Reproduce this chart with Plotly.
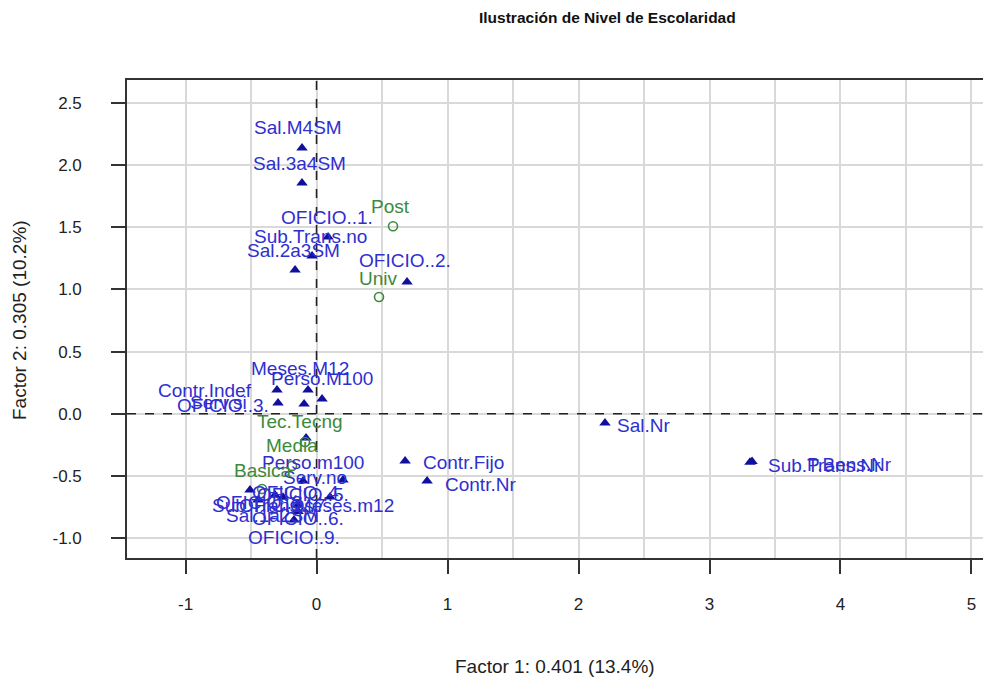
import plotly.graph_objects as go

# Active categories (factor coordinates on dimensions 1 and 2)
active_names = [
    "Sal.M4SM", "Sal.3a4SM", "OFICIO..1.", "Sub.Trans.no", "Sal.2a3SM",
    "OFICIO..2.", "Meses.M12", "Perso.M100", "Contr.Indef", "OFICIO..3.",
    "Serv.si", "Sal.Nr", "Sub.Trans.Nr", "P.Bens.Nr", "Contr.Fijo",
    "Contr.Nr", "OFICIO..7.", "Perso.m100", "Serv.no", "OFICIO..4.",
    "OFICIO..5.", "Sub.Trans.si", "Meses.m12", "OFICIO..8.", "Sal.1a2SM",
    "OFICIO..6.", "OFICIO..9.",
]
active_f1 = [
    -0.111, -0.111, 0.088, -0.034, -0.164,
    0.691, -0.065, 0.042, -0.302, -0.294,
    -0.095, 2.202, 3.309, 3.325, 0.676,
    0.844, -0.080, -0.103, 0.202, -0.141,
    -0.256, -0.508, 0.103, -0.447, -0.317,
    -0.141, -0.172,
]
active_f2 = [
    2.138, 1.856, 1.422, 1.269, 1.156,
    1.060, 0.191, 0.118, 0.191, 0.086,
    0.078, -0.075, -0.390, -0.384, -0.380,
    -0.541, -0.195, -0.541, -0.533, -0.786,
    -0.673, -0.614, -0.671, -0.694, -0.654,
    -0.734, -0.855,
]

# Supplementary categories: schooling level
supl_names = ["Post", "Univ", "Tec.Tecng", "Media", "Basica"]
supl_f1 = [0.584, 0.477, -0.088, -0.187, -0.416]
supl_f2 = [1.508, 0.939, -0.228, -0.420, -0.606]

x_ticks = [-1, 0, 1, 2, 3, 4, 5]
y_ticks = [-1.0, -0.5, 0.0, 0.5, 1.0, 1.5, 2.0, 2.5]

# Label placement (pixel shift from the point, anchor)
label_place = {
    "Sal.M4SM": (-4, 20, "center"), "Sal.3a4SM": (-3, 20, "center"),
    "OFICIO..1.": (-1, 19, "center"), "Sub.Trans.no": (-2, 19, "center"),
    "Sal.2a3SM": (-2, 20, "center"), "OFICIO..2.": (-2, 21, "center"),
    "Meses.M12": (-8, 21, "center"), "Perso.M100": (0, 21, "center"),
    "Contr.Indef": (-72, -1, "center"), "OFICIO..3.": (-55, -2, "center"),
    "Serv.si": (-86, 2, "center"), "Sal.Nr": (10, -2, "left"),
    "Sub.Trans.Nr": (16, -3, "left"), "P.Bens.Nr": (142, -3, "right"),
    "Contr.Fijo": (16, -2, "left"), "Contr.Nr": (16, -4, "left"),
    "OFICIO..7.": (-21, -68, "center"), "Perso.m100": (10, 18, "center"),
    "Serv.no": (-28, 2, "center"), "OFICIO..4.": (0, 19, "center"),
    "OFICIO..5.": (20, 3, "center"), "Sub.Trans.si": (15, -15, "center"),
    "Meses.m12": (15, -8, "center"), "OFICIO..8.": (4, -3, "center"),
    "Sal.1a2SM": (-3, -21, "center"), "OFICIO..6.": (0, -14, "center"),
    "OFICIO..9.": (0, -18, "center"),
    "Post": (-3, 20, "center"), "Univ": (-1, 19, "center"),
    "Tec.Tecng": (-5, 21, "center"), "Media": (0, 20, "center"),
    "Basica": (0, 19, "center"),
}

BLUE_MARK = "#10109c"
BLUE_TEXT = "#2f2fd0"
GREEN = "#3c8a3c"
FONT = "Liberation Sans, Arial, sans-serif"

fig = go.Figure()

# Dashed reference lines through the origin, drawn as traces under the marks
fig.add_trace(go.Scatter(
    x=[0, 0], y=[-1.161, 2.685], mode="lines", hoverinfo="skip",
    line=dict(color="#222", width=1.6, dash="dash"), showlegend=False,
))
fig.add_trace(go.Scatter(
    x=[-1.447, 5.088], y=[0, 0], mode="lines", hoverinfo="skip",
    line=dict(color="#222", width=1.6, dash="dash"), showlegend=False,
))

fig.add_trace(go.Scatter(
    x=active_f1, y=active_f2, mode="markers",
    marker=dict(symbol="triangle-up", size=10, color=BLUE_MARK),
    hovertext=active_names, showlegend=False,
))
fig.add_trace(go.Scatter(
    x=supl_f1, y=supl_f2, mode="markers",
    marker=dict(symbol="circle-open", size=9, color=GREEN, line=dict(width=1.6)),
    hovertext=supl_names, showlegend=False,
))

annotations = []
for names, xs, ys, col in [(active_names, active_f1, active_f2, BLUE_TEXT),
                            (supl_names, supl_f1, supl_f2, GREEN)]:
    for n, xv, yv in zip(names, xs, ys):
        dx, dy, anchor = label_place[n]
        annotations.append(dict(
            x=xv, y=yv, xref="x", yref="y", text=n, showarrow=False,
            xanchor=anchor, yanchor="middle", xshift=dx, yshift=dy,
            font=dict(family=FONT, size=19, color=col),
        ))

# Plot frame spans pixels 127..983 horizontally and 80..558 vertically
L, R, T, B = 127, 983, 80, 558
W, H = 983, 680


def px_x(p):
    return (p - L) / (R - L)


def px_y(p):
    return (B - p) / (B - T)


annotations += [
    dict(x=px_x(607), y=px_y(17), xref="paper", yref="paper", showarrow=False,
         text="<b>Ilustración de Nivel de Escolaridad</b>",
         font=dict(family=FONT, size=15.5, color="#111"),
         xanchor="center", yanchor="middle"),
    dict(x=px_x(555), y=px_y(666), xref="paper", yref="paper", showarrow=False,
         text="Factor 1: 0.401 (13.4%)",
         font=dict(family=FONT, size=19, color="#222"),
         xanchor="center", yanchor="middle"),
    dict(x=px_x(19), y=px_y(320), xref="paper", yref="paper", showarrow=False,
         text="Factor 2: 0.305 (10.2%)", textangle=-90,
         font=dict(family=FONT, size=19, color="#222"),
         xanchor="center", yanchor="middle"),
]

fig.update_layout(
    width=W, height=H,
    margin=dict(l=L, r=W - R, t=T, b=H - B, pad=0),
    paper_bgcolor="white", plot_bgcolor="white",
    annotations=annotations,
    font=dict(family=FONT, color="#222"),
    xaxis=dict(
        range=[-1.447, 5.088], tickvals=x_ticks, ticktext=[str(v) for v in x_ticks],
        ticks="outside", ticklen=14, tickwidth=1.5, tickcolor="#333",
        showline=True, mirror=True, linecolor="#333", linewidth=1.6,
        showgrid=True, gridcolor="#d9d9d9", gridwidth=1.5,
        minor=dict(dtick=0.5, showgrid=True, gridcolor="#d9d9d9", gridwidth=1.5, ticks=""),
        zeroline=False, tickfont=dict(size=17, family=FONT, color="#222"),
        ticklabelstandoff=16,
    ),
    yaxis=dict(
        range=[-1.161, 2.685], tickvals=y_ticks, ticktext=[f"{v:.1f}" for v in y_ticks],
        ticks="outside", ticklen=14, tickwidth=1.5, tickcolor="#333",
        showline=True, mirror=False, linecolor="#333", linewidth=1.6,
        showgrid=True, gridcolor="#d9d9d9", gridwidth=1.5,
        zeroline=False, tickfont=dict(size=17, family=FONT, color="#222"),
        ticklabelstandoff=26,
    ),
)

fig.write_html("out.html")
